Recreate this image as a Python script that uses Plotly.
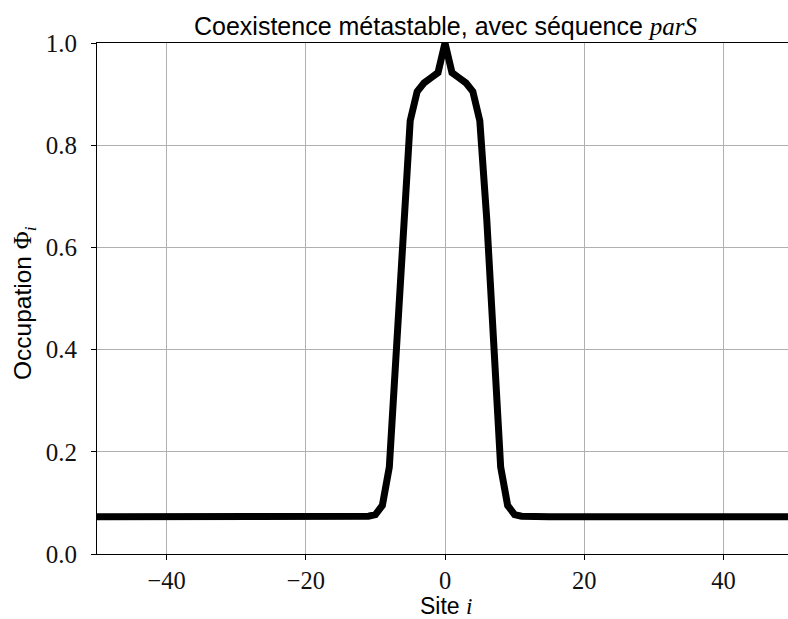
import plotly.graph_objects as go

# Site indices and occupation values
sites = list(range(-50, 51))
base = 0.073
peak_left = [0.074, 0.077, 0.095, 0.17, 0.39, 0.655, 0.848, 0.905, 0.922, 0.932, 0.942]   # sites -11 .. -1
peak_center = [1.0]                                                                            # site 0
peak_right = [0.942, 0.932, 0.922, 0.905, 0.848, 0.655, 0.39, 0.17, 0.095, 0.077, 0.074]  # sites 1 .. 11
occupation = [base] * 39 + peak_left + peak_center + peak_right + [base] * 39

x_ticks = [-40, -20, 0, 20, 40]
y_ticks = [0.0, 0.2, 0.4, 0.6, 0.8, 1.0]
y_tick_text = ["0.0", "0.2", "0.4", "0.6", "0.8", "1.0"]

title_text = "Coexistence métastable, avec séquence <span style='font-family:Liberation Serif'><i>parS</i></span>"
x_label = "Site <span style='font-family:Liberation Serif'><i>i</i></span>"
y_label = "Occupation <span style='font-family:Liberation Serif'>Φ<sub><i>i</i></sub></span>"

SANS = "Liberation Sans"
SERIF = "Liberation Serif"
W, H = 788, 619
L, T, B = 97, 43, 65
PW, PH = W - L, H - T - B

fig = go.Figure()
fig.add_trace(go.Scatter(x=sites, y=occupation, mode="lines",
                         line=dict(color="black", width=7), showlegend=False))

fig.update_layout(
    width=W, height=H,
    margin=dict(l=L, r=0, t=T, b=B, autoexpand=False),
    paper_bgcolor="white", plot_bgcolor="white",
    title=dict(text=title_text,
               font=dict(family=SANS, size=25, color="black"),
               x=445.5 / W, xanchor="center", xref="container",
               y=1 - 26 / H, yanchor="middle", yref="container", automargin=False),
    annotations=[
        dict(text=x_label, xref="paper", yref="paper", x=(445.5 - L) / PW, y=-(606 - (H - B)) / PH,
             xanchor="center", yanchor="middle", showarrow=False,
             font=dict(family=SANS, size=23, color="black")),
        dict(text=y_label, xref="paper", yref="paper", x=-(L - 24) / PW, y=((H - B) - 303) / PH,
             xanchor="center", yanchor="middle", showarrow=False, textangle=-90,
             font=dict(family=SANS, size=24.5, color="black")),
    ],
)

fig.update_xaxes(
    range=[-50, -50 + PW / 6.96], tickvals=x_ticks, automargin=False,
    showgrid=True, gridcolor="#b0b0b0", gridwidth=1.1,
    showline=True, linecolor="black", linewidth=1.1, mirror=True,
    ticks="outside", ticklen=5, tickcolor="black", tickwidth=1.1,
    tickfont=dict(family=SERIF, size=24.5, color="#111"),
    ticklabelstandoff=0,
    zeroline=False,
)
fig.update_yaxes(
    range=[0, 1], tickvals=y_ticks, ticktext=y_tick_text, automargin=False,
    showgrid=True, gridcolor="#b0b0b0", gridwidth=1.1,
    showline=True, linecolor="black", linewidth=1.1, mirror=False,
    ticks="outside", ticklen=5, tickcolor="black", tickwidth=1.1,
    tickfont=dict(family=SERIF, size=25, color="#111"),
    ticklabelstandoff=9,
    zeroline=False,
)

fig.write_html("out.html", config={"displayModeBar": False},
               post_script="document.body.style.margin='0';document.body.style.overflow='hidden';")
